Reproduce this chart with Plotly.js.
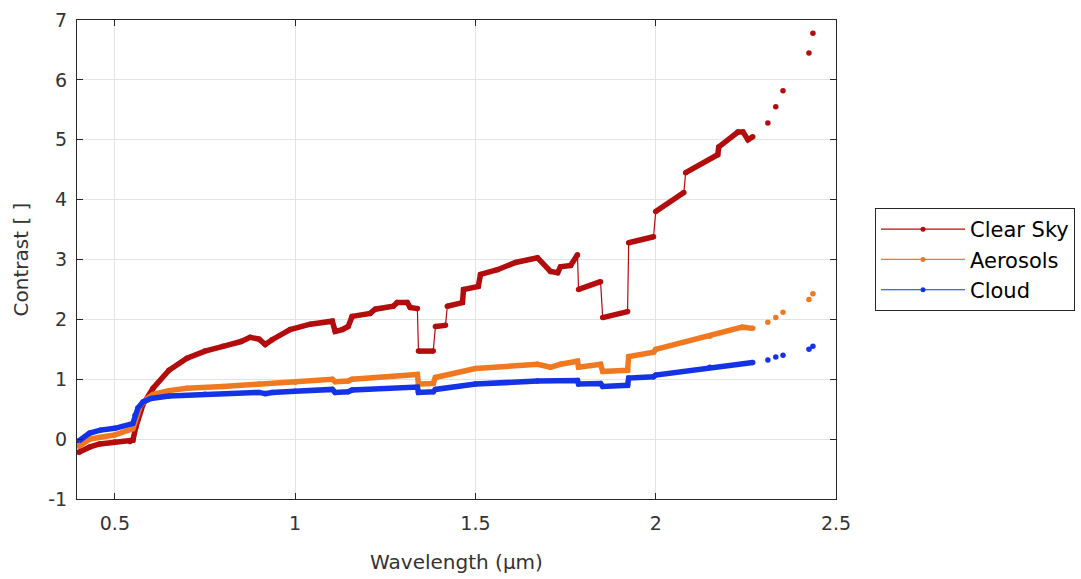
<!DOCTYPE html>
<html>
<head>
<meta charset="utf-8">
<script src="https://cdn.plot.ly/plotly-3.0.1.min.js"></script>
<style>html,body{margin:0;padding:0;background:#fff;}#chart{width:1081px;height:579px;}</style>
</head>
<body>
<div id="chart"></div>
<script>
// ---- data ----
const seriesNames = ["Clear Sky", "Aerosols", "Cloud"];

const clearSkyX = [0.400,0.431,0.458,0.500,0.542,0.550,0.558,0.564,0.578,0.606,0.650,0.700,0.750,0.800,0.850,0.875,0.900,0.917,0.936,0.986,1.042,1.103,1.111,1.131,1.147,1.158,1.208,1.222,1.272,1.283,1.311,1.319,1.339,1.342,1.383,1.389,1.417,1.422,1.464,1.467,1.508,1.514,1.561,1.611,1.672,1.708,1.728,1.736,1.764,1.783,1.786,1.847,1.853,1.922,1.925,1.994,2.000,2.078,2.083,2.172,2.175,2.228,2.242,2.256,2.269, null, 2.311, null, 2.333, null, 2.353, null, 2.425, null, 2.436];
const clearSkyY = [-0.22,-0.13,-0.08,-0.05,-0.04,-0.02,0.20,0.33,0.58,0.85,1.15,1.35,1.47,1.55,1.63,1.70,1.67,1.58,1.66,1.83,1.92,1.97,1.80,1.83,1.88,2.05,2.10,2.17,2.22,2.28,2.28,2.20,2.18,1.47,1.47,1.88,1.90,2.22,2.28,2.50,2.55,2.75,2.83,2.95,3.03,2.80,2.78,2.88,2.90,3.08,2.50,2.63,2.03,2.13,3.28,3.38,3.80,4.12,4.45,4.75,4.88,5.13,5.13,5.00,5.05, null, 5.28, null, 5.55, null, 5.82, null, 6.45, null, 6.78];

const aerosolsX = [0.400,0.430,0.460,0.500,0.550,0.558,0.570,0.590,0.606,0.650,0.700,0.800,0.900,1.000,1.103,1.111,1.147,1.158,1.339,1.342,1.383,1.389,1.500,1.672,1.708,1.736,1.783,1.786,1.847,1.853,1.922,1.925,1.994,2.000,2.150,2.240,2.269, null, 2.311, null, 2.333, null, 2.353, null, 2.425, null, 2.436];
const aerosolsY = [-0.12,0.00,0.03,0.07,0.17,0.30,0.55,0.68,0.75,0.81,0.85,0.88,0.92,0.95,1.00,0.96,0.97,1.00,1.08,0.92,0.93,1.03,1.18,1.25,1.20,1.25,1.30,1.20,1.25,1.13,1.15,1.38,1.45,1.50,1.72,1.87,1.85, null, 1.95, null, 2.03, null, 2.12, null, 2.33, null, 2.43];

const cloudX = [0.400,0.430,0.460,0.500,0.550,0.556,0.564,0.578,0.600,0.650,0.750,0.900,0.917,0.936,1.000,1.103,1.111,1.147,1.158,1.339,1.342,1.383,1.389,1.500,1.672,1.783,1.786,1.847,1.853,1.922,1.925,1.994,2.000,2.150,2.269, null, 2.311, null, 2.333, null, 2.353, null, 2.425, null, 2.436];
const cloudY = [-0.03,0.10,0.15,0.18,0.26,0.40,0.52,0.62,0.68,0.72,0.75,0.78,0.76,0.78,0.80,0.83,0.78,0.79,0.82,0.87,0.78,0.79,0.83,0.92,0.97,0.98,0.92,0.93,0.88,0.90,1.02,1.04,1.07,1.20,1.28, null, 1.32, null, 1.37, null, 1.40, null, 1.50, null, 1.55];

const xTickVals = [0.5, 1, 1.5, 2, 2.5];
const xTickText = ["0.5", "1", "1.5", "2", "2.5"];
const yTickVals = [-1, 0, 1, 2, 3, 4, 5, 6, 7];
const yTickText = ["-1", "0", "1", "2", "3", "4", "5", "6", "7"];

// ---- styling ----
const colors = ["#b30c0c", "#f07820", "#1432e6"];
const textColor = "#333333";
const font = "DejaVu Sans, Arial, sans-serif";

// thick band made from the same points, broken only at the near-vertical large jumps
function band(xs, ys) {
  const bx = [], by = [];
  for (let i = 0; i < xs.length; i++) {
    if (i > 0 && ys[i] !== null && ys[i-1] !== null &&
        Math.abs(ys[i] - ys[i-1]) > 0.3 && Math.abs(xs[i] - xs[i-1]) < 0.01) {
      bx.push(null); by.push(null);
    }
    bx.push(xs[i]); by.push(ys[i]);
  }
  return {bx, by};
}

const allX = [clearSkyX, aerosolsX, cloudX];
const allY = [clearSkyY, aerosolsY, cloudY];
const traces = [];
for (let s = 0; s < 3; s++) {
  traces.push({
    x: allX[s], y: allY[s], name: seriesNames[s], type: "scatter", mode: "lines+markers",
    line: {color: colors[s], width: 1.2}, marker: {color: colors[s], size: 5.5},
    connectgaps: false, showlegend: false
  });
}
for (let s = 0; s < 3; s++) {
  const b = band(allX[s], allY[s]);
  traces.push({
    x: b.bx, y: b.by, type: "scatter", mode: "lines", hoverinfo: "skip",
    line: {color: colors[s], width: 5.5}, connectgaps: false, showlegend: false
  });
}
// legend entries
for (let s = 0; s < 3; s++) {
  traces.push({
    x: [null], y: [null], name: seriesNames[s], type: "scatter", mode: "lines+markers",
    line: {color: colors[s], width: 1.2}, marker: {color: colors[s], size: 5}
  });
}

const axisCommon = {
  showline: true, mirror: "ticks", linecolor: "#262626", linewidth: 1,
  ticks: "inside", ticklen: 6, tickcolor: "#262626", tickwidth: 1,
  showgrid: true, gridcolor: "#e3e3e3", gridwidth: 1, zeroline: false,
  tickfont: {family: font, size: 19, color: textColor}
};

const layout = {
  width: 1081, height: 579,
  margin: {l: 77, r: 245, t: 20, b: 80, pad: 0, autoexpand: false},
  paper_bgcolor: "#ffffff", plot_bgcolor: "#ffffff",
  xaxis: Object.assign({}, axisCommon, {
    range: [0.395, 2.5], tickvals: xTickVals, ticktext: xTickText,
    ticklabelstandoff: 7,
    title: {text: "Wavelength (μm)", font: {family: font, size: 20, color: textColor}, standoff: 22}
  }),
  yaxis: Object.assign({}, axisCommon, {
    range: [-1, 7], tickvals: yTickVals, ticktext: yTickText,
    ticklabelstandoff: 5,
    title: {text: "Contrast [ ]", font: {family: font, size: 20, color: textColor}, standoff: 14}
  }),
  showlegend: true,
  legend: {
    x: 1.0514, y: 0.6075, xanchor: "left", yanchor: "top",
    bgcolor: "#ffffff", bordercolor: "#262626", borderwidth: 1,
    font: {family: font, size: 21, color: "#000000"},
    itemwidth: 84, tracegroupgap: 0
  }
};

Plotly.newPlot("chart", traces, layout, {displayModeBar: false, staticPlot: true});
</script>
</body>
</html>
